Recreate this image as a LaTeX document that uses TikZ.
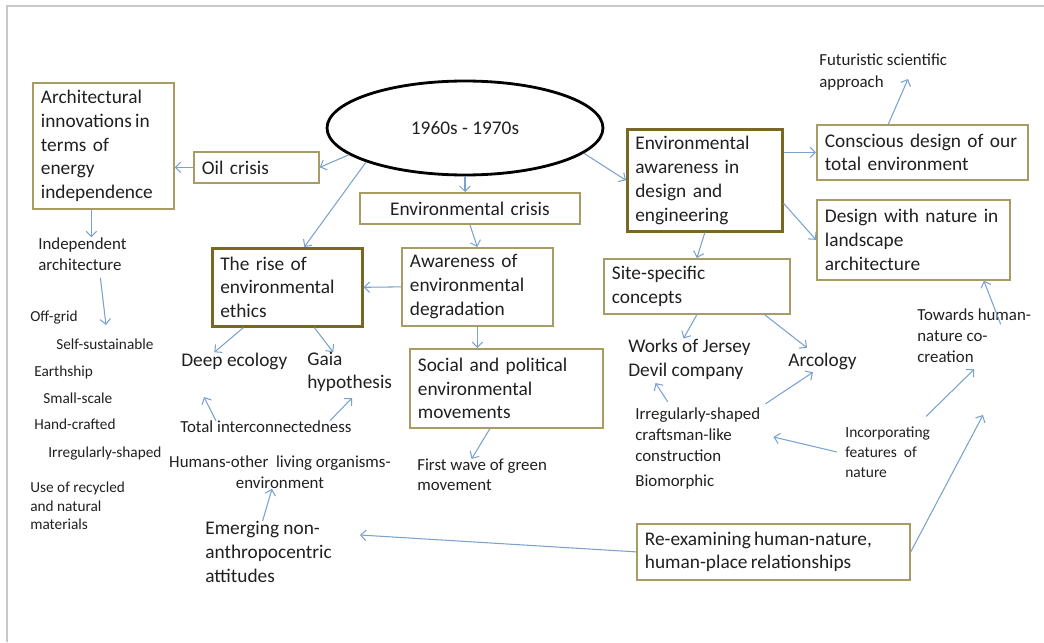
\documentclass[tikz,border=0pt]{standalone}
\usepackage{fontspec}
\setmainfont{Carlito}
\usetikzlibrary{shapes.geometric,arrows.meta}

\definecolor{boxline}{RGB}{168,155,100}
\definecolor{boxdark}{RGB}{120,104,36}
\definecolor{linkblue}{RGB}{122,162,204}
\definecolor{framegray}{RGB}{200,200,200}
\definecolor{inkgray}{RGB}{32,32,32}

\newcommand{\bigtxt}{\fontsize{11}{13.6}\selectfont}
\newcommand{\midtxt}{\fontsize{9.6}{12}\selectfont}
\newcommand{\smalltxt}{\fontsize{8.7}{10.5}\selectfont}

\tikzset{
  box/.style={draw=boxline, line width=1pt, anchor=north west, align=left,
    inner xsep=0.16cm, inner ysep=0pt, font=\bigtxt, text=inkgray},
  thickbox/.style={box, draw=boxdark, line width=1.5pt},
  bigtext/.style={anchor=west, align=left, inner sep=0pt, font=\bigtxt, text=inkgray},
  midtext/.style={bigtext, font=\midtxt},
  smalltext/.style={bigtext, font=\smalltxt},
  link/.style={draw=linkblue, line width=0.6pt, -{Straight Barb[length=3pt,width=6pt]}}
}

\begin{document}
\begin{tikzpicture}[x=0.02cm, y=-0.02cm]
\useasboundingbox (0,0) rectangle (1044,642);
\draw[framegray, line width=1pt] (1044,6) -- (7,6) -- (7,642);

\node[draw, ellipse, line width=1.6pt, minimum width=5.52cm, minimum height=1.88cm,
  inner sep=0pt, font=\bigtxt, text=inkgray] (era) at (465,128) {1960s - 1970s};

\node[box, text width=2.5cm, minimum height=2.52cm] (arch) at (32,82)
  {Architectural\\innovations\,in\\terms of\\energy\\independence};
\node[box, text width=2.18cm, minimum height=0.62cm] (oil) at (193,151) {Oil crisis};
\node[box, align=center, text width=4.08cm, minimum height=0.62cm] (ecrisis) at (359,192) {Environmental crisis};
\node[box, text width=2.7cm, minimum height=1.56cm] (aware) at (401,247)
  {Awareness of\\environmental\\degradation};
\node[thickbox, text width=2.68cm, minimum height=1.56cm] (rise) at (211,247)
  {The rise of\\environmental\\ethics};
\node[box, text width=3.54cm, minimum height=1.58cm] (social) at (409,348)
  {Social and political\\environmental\\movements};
\node[thickbox, text width=2.78cm, minimum height=2.04cm] (edesign) at (626,128)
  {Environmental\\awareness in\\design and\\engineering};
\node[box, text width=3.9cm, minimum height=1.1cm] (conscious) at (816,124)
  {Conscious design of our\\total environment};
\node[box, text width=3.54cm, minimum height=1.6cm] (designnat) at (816,199)
  {Design with nature in\\landscape\\architecture};
\node[box, text width=3.4cm, minimum height=1.1cm] (site) at (603,258)
  {Site-specific\\concepts};
\node[box, text width=5.14cm, minimum height=1.12cm, font=\fontsize{11}{12.6}\selectfont] (reexam) at (636,523)
  {Re-examining\,human-nature,\\human-place\,relationships};

\node[midtext] (futur) at (819,72) {Futuristic scientific\\approach};
\node[midtext] (indep) at (38,254) {Independent\\architecture};
\node[smalltext] (offgrid) at (30,318) {Off-grid};
\node[smalltext] (selfsus) at (56,344) {Self-sustainable};
\node[smalltext] (earth) at (34,372) {Earthship};
\node[smalltext] (smallsc) at (43,398) {Small-scale};
\node[smalltext] (handcr) at (34,424) {Hand-crafted};
\node[smalltext] (irregb) at (48,454) {Irregularly-shaped};
\node[smalltext] (recyc) at (30,506) {Use of recycled\\and natural\\materials};
\node[bigtext] (deep) at (181,361) {Deep ecology};
\node[bigtext, font=\fontsize{11}{12.8}\selectfont] (gaia) at (307,372) {Gaia\\hypothesis};
\node[midtext] (total) at (180,427) {Total interconnectedness};
\node[midtext, anchor=center, align=center] (humans) at (280,472)
  {Humans-other\ \ living organisms-\\environment};
\node[bigtext] (emerg) at (205,552) {Emerging non-\\anthropocentric\\attitudes};
\node[midtext, font=\fontsize{9.6}{11.3}\selectfont] (green) at (417,475) {First wave of green\\movement};
\node[bigtext] (jersey) at (628,359) {Works of Jersey\\Devil company};
\node[bigtext] (arco) at (788,361) {Arcology};
\node[midtext, font=\fontsize{9.6}{11.9}\selectfont] (towards) at (917,336) {Towards human-\\nature co-\\creation};
\node[midtext, font=\fontsize{9.6}{11.9}\selectfont] (irrega) at (635,435) {Irregularly-shaped\\craftsman-like\\construction};
\node[midtext] (biom) at (635,482) {Biomorphic};
\node[smalltext, font=\fontsize{8.8}{11.3}\selectfont] (incorp) at (845,452) {Incorporating\\features\ \ of\\nature};

\coordinate (futtip) at (908,79);
\coordinate (offtip) at (106,325);
\coordinate (deeptip) at (204,397);
\coordinate (gaiatip) at (352,398);
\coordinate (emergtip) at (360,535);
\coordinate (towtip) at (983,415);

\draw[link] (era.193) -- (oil.east);
\draw[link] (oil.west) -- (oil.west -| arch.east);
\draw[link] (era.199) -- ([xshift=0.34cm]rise.north);
\draw[link] (era.south) -- (era.south |- ecrisis.north);
\draw[link] (ecrisis.south) -- (aware.north);
\draw[link] (aware.west) -- (rise.east);
\draw[link] (aware.south) -- (aware.south |- social.north);
\draw[link] ([xshift=-0.33cm]social.south) -- ([xshift=-0.21cm]green.north);
\draw[link] (era.-12) -- (edesign.west);
\draw[link] (conscious.west -| edesign.east) -- (conscious.west);
\draw[link] ([yshift=-0.46cm]edesign.east) -- (designnat.west);
\draw[link] (edesign.south) -- (site.north);
\draw[link] ([xshift=-0.68cm]conscious.north) -- (futtip);
\draw[link] ([xshift=-0.24cm]arch.south) -- ([xshift=-0.24cm]arch.south |- indep.north);
\draw[link] ([shift={(0.36cm,-0.14cm)}]indep.south) -- (offtip);
\draw[link] ([xshift=-0.88cm]rise.south) -- ([xshift=-0.4cm]deep.north);
\draw[link] ([xshift=0.54cm]rise.south) -- ([xshift=-0.33cm]gaia.north);
\draw[link] ([xshift=-1cm]total.north) -- (deeptip);
\draw[link] ([xshift=1.28cm]total.north) -- (gaiatip);
\draw[link] ([xshift=-0.12cm]emerg.north) -- ([xshift=-0.16cm]humans.south);
\draw[link] (reexam.west) -- (emergtip);
\draw[link] (reexam.east) -- (towtip);
\draw[link] ([shift={(0.77cm,0.2cm)}]incorp.north) -- ([yshift=-0.12cm]towards.south);
\draw[link] ([shift={(0.53cm,-0.31cm)}]towards.north) -- ([xshift=1.41cm]designnat.south);
\draw[link] ([xshift=-0.16cm]incorp.west) -- ([shift={(0.26cm,-0.04cm)}]irrega.east);
\draw[link] ([shift={(0.1cm,0.08cm)}]irrega.north east) -- ([shift={(-0.19cm,-0.05cm)}]arco.south);
\draw[link] ([shift={(-0.6cm,0.12cm)}]irrega.north) -- ([shift={(-0.68cm,-0.07cm)}]jersey.south);
\draw[link] (site.south) -- ([xshift=-0.12cm]jersey.north);
\draw[link] ([xshift=-0.52cm]site.south east) -- ([shift={(-0.31cm,0.09cm)}]arco.north);
\end{tikzpicture}
\end{document}
